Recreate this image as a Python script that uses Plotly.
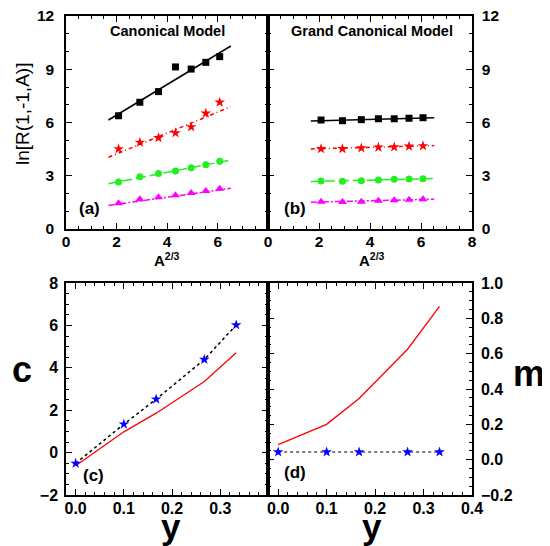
import plotly.graph_objects as go

# ---------------- data ----------------
A_x = [2.08, 2.92, 3.66, 4.33, 4.95, 5.53, 6.08]          # A^(2/3)
fit_x = [1.68, 6.52]

can_black = [6.38, 7.14, 7.74, 9.13, 9.01, 9.39, 9.71]
can_red = [4.51, 4.88, 5.14, 5.41, 5.75, 6.52, 7.14]
can_green = [2.65, 2.95, 3.12, 3.27, 3.45, 3.62, 3.81]
can_magenta = [1.45, 1.67, 1.79, 1.90, 2.03, 2.14, 2.27]
can_fit_black = [6.14, 10.31]
can_fit_red = [4.04, 6.89]
can_fit_green = [2.55, 3.89]
can_fit_magenta = [1.33, 2.29]

gc_black = [6.14, 6.10, 6.16, 6.21, 6.21, 6.24, 6.27]
gc_red = [4.52, 4.52, 4.56, 4.60, 4.62, 4.66, 4.68]
gc_green = [2.70, 2.69, 2.72, 2.76, 2.80, 2.82, 2.83]
gc_magenta = [1.54, 1.52, 1.54, 1.59, 1.62, 1.65, 1.67]
gc_fit_black = [6.08, 6.27]
gc_fit_red = [4.51, 4.70]
gc_fit_green = [2.68, 2.84]
gc_fit_magenta = [1.51, 1.68]

y_vals = [0.0, 0.1, 0.167, 0.267, 0.333]
c_stars = [-0.51, 1.34, 2.52, 4.39, 6.02]
c_line = [-0.62, 0.98, 1.86, 3.35, 4.71]
m_stars = [0.043, 0.043, 0.043, 0.043, 0.043]
m_line = [0.085, 0.20, 0.346, 0.625, 0.868]

# ---------------- figure ----------------
FONT = "Liberation Sans, Arial, sans-serif"
fig = go.Figure()

def add_series(xa, ya, xs, ys, fx, fy, color, symbol, msize, dash):
    fig.add_trace(go.Scatter(x=fx, y=fy, mode="lines", xaxis=xa, yaxis=ya,
                             line=dict(color=color, width=1.5, dash=dash),
                             showlegend=False, hoverinfo="skip"))
    fig.add_trace(go.Scatter(x=xs, y=ys, mode="markers", xaxis=xa, yaxis=ya,
                             marker=dict(color=color, symbol=symbol, size=msize,
                                         line=dict(width=0)),
                             showlegend=False))

styles = [("black", "square", 7, "solid"),
          ("red", "star", 8, "4px,3px,1px,3px"),
          ("#22ee22", "circle", 7, "10px,4px"),
          ("magenta", "triangle-up", 8, "6px,2px,2px,2px")]

for xa, ya, data in [
    ("x", "y", [(can_black, can_fit_black), (can_red, can_fit_red),
                (can_green, can_fit_green), (can_magenta, can_fit_magenta)]),
    ("x2", "y2", [(gc_black, gc_fit_black), (gc_red, gc_fit_red),
                  (gc_green, gc_fit_green), (gc_magenta, gc_fit_magenta)]),
]:
    for (ys, fy), (col, sym, ms, dash) in zip(data, styles):
        add_series(xa, ya, A_x, ys, fit_x, fy, col, sym, ms, dash)

# bottom panels
fig.add_trace(go.Scatter(x=y_vals, y=c_line, mode="lines", xaxis="x3", yaxis="y3",
                         line=dict(color="red", width=1.3), showlegend=False))
fig.add_trace(go.Scatter(x=y_vals, y=c_stars, mode="lines+markers", xaxis="x3", yaxis="y3",
                         line=dict(color="black", width=1.5, dash="dot"),
                         marker=dict(color="blue", symbol="star", size=8, line=dict(width=0)),
                         showlegend=False))
fig.add_trace(go.Scatter(x=y_vals, y=m_line, mode="lines", xaxis="x4", yaxis="y4",
                         line=dict(color="red", width=1.3), showlegend=False))
fig.add_trace(go.Scatter(x=y_vals, y=m_stars, mode="lines+markers", xaxis="x4", yaxis="y4",
                         line=dict(color="#555555", width=1.5, dash="dot"),
                         marker=dict(color="blue", symbol="star", size=8, line=dict(width=0)),
                         showlegend=False))

# page has an 8px body margin: map page pixel coords to figure coords
OFF = 8
W, H = 550 - OFF, 546 - OFF

def px(p):
    return (p - OFF) / W

def py(p):
    return 1 - (p - OFF) / H

xa_dom = [px(66), px(268)]
xb_dom = [px(268), px(472)]
top_dom = [py(229), py(16)]
bot_dom = [py(495), py(283)]

def axis(domain, rng, dtick, minor_dtick, anchor, side=None, fmt=None,
         size=15.5, standoff=0):
    d = dict(domain=domain, range=rng, anchor=anchor, showgrid=False, zeroline=False,
             automargin=False, ticklabeloverflow="allow",
             showline=True, linecolor="black", linewidth=1.5, mirror="ticks",
             ticks="inside", ticklen=6, tickwidth=1.2, tickcolor="black",
             tickfont=dict(family=FONT, size=size, color="black"),
             dtick=dtick, tick0=0, ticklabelstandoff=standoff,
             tickprefix="<b>", ticksuffix="</b>",
             minor=dict(ticks="inside", ticklen=3, tickwidth=1, tickcolor="black",
                        dtick=minor_dtick, tick0=0, showgrid=False))
    if side:
        d["side"] = side
    if fmt:
        d["tickformat"] = fmt
    return d

fig.update_layout(
    width=W, height=H,
    margin=dict(l=0, r=0, t=0, b=0, autoexpand=False),
    paper_bgcolor="white", plot_bgcolor="white",
    xaxis=axis(xa_dom, [0, 7.99], 2, 0.5, "y", standoff=-2),
    yaxis=axis(top_dom, [0, 12], 3, 1, "x", standoff=7),
    xaxis2=axis(xb_dom, [0, 8], 2, 0.5, "y2", standoff=-2),
    yaxis2=axis(top_dom, [0, 12], 3, 1, "x2", side="right", standoff=5),
    xaxis3=axis(xa_dom, [-0.02, 0.399], 0.1, 0.02, "y3", fmt=".1f", size=16, standoff=-2),
    yaxis3=axis(bot_dom, [-2, 8], 2, 0.5, "x3", size=16, standoff=3),
    xaxis4=axis(xb_dom, [-0.021, 0.4], 0.1, 0.02, "y4", fmt=".1f", size=16, standoff=-2),
    yaxis4=axis(bot_dom, [-0.2, 1.0], 0.2, 0.05, "x4", side="right", fmt=".1f",
                size=16, standoff=4),
)

def ann(text, x, y, size, bold=True, textangle=0):
    if bold:
        text = "<b>" + text + "</b>"
    fig.add_annotation(text=text, x=px(x), y=py(y), xref="paper", yref="paper",
                       showarrow=False, textangle=textangle,
                       font=dict(family=FONT, size=size, color="black"),
                       xanchor="center", yanchor="middle")

ann("Canonical Model", 167, 31, 14.5)
ann("Grand Canonical Model", 372, 31, 14.5)
ann("(a)", 89, 208, 17)
ann("(b)", 295, 208, 17)
ann("(c)", 93, 475, 17)
ann("(d)", 295, 472, 17)
ann("A<sup>2/3</sup>", 167, 259, 15)
ann("A<sup>2/3</sup>", 372, 259, 15)
ann("ln[R(1,-1,A)]", 23, 114, 19, bold=False, textangle=-90)
ann("c", 22, 370, 36)
ann("m", 529, 373, 36)
ann("y", 171, 526, 35)
ann("y", 372, 526, 35)

fig.write_html("out.html")
